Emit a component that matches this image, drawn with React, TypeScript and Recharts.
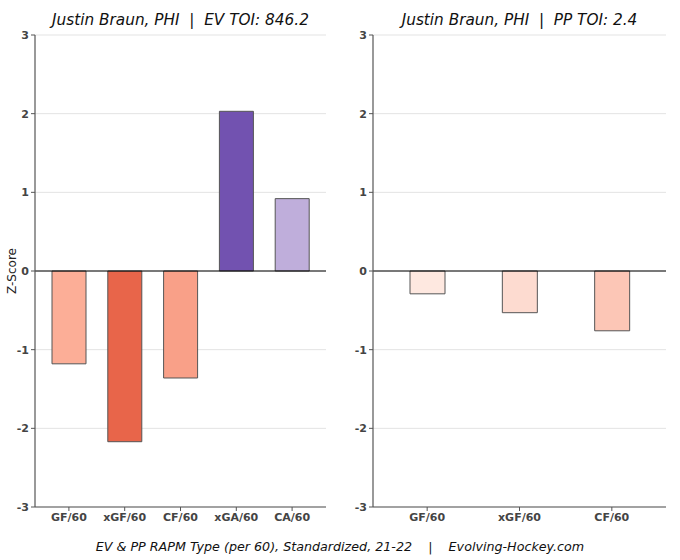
import React from "react";
import { BarChart, Bar, XAxis, YAxis, CartesianGrid, ReferenceLine, Cell } from "recharts";

const evCategories = ["GF/60", "xGF/60", "CF/60", "xGA/60", "CA/60"];
const evValues = [-1.18, -2.17, -1.36, 2.03, 0.92];
const evColors = ["#FCAE97", "#E8654A", "#F9A088", "#7252B0", "#BFAEDB"];

const ppCategories = ["GF/60", "xGF/60", "CF/60"];
const ppValues = [-0.29, -0.53, -0.76];
const ppColors = ["#FEE8E0", "#FDDBD0", "#FCC6B6"];

const yTicks = [-3, -2, -1, 0, 1, 2, 3];

const evTitle = "Justin Braun, PHI  |  EV TOI: 846.2";
const ppTitle = "Justin Braun, PHI  |  PP TOI: 2.4";
const caption = "EV & PP RAPM Type (per 60), Standardized, 21-22    |    Evolving-Hockey.com";

const FONT = "DejaVu Sans, sans-serif";
const frame = "#555555";

function Panel(props: {
  categories: string[];
  values: number[];
  colors: string[];
  left: number;
  yWidth: number;
  barSize: number;
  pad: number;
  title: string;
  showLabel: boolean;
}) {
  const data = props.categories.map((c, i) => ({ name: c, value: props.values[i] }));
  const plotLeft = props.yWidth;
  const plotRight = 340 - 14;
  return (
    <div style={{ position: "absolute", left: props.left, top: 0, width: 340, height: 560 }}>
      <div
        style={{
          position: "absolute",
          left: plotLeft,
          width: plotRight - plotLeft,
          top: 11,
          textAlign: "center",
          fontFamily: FONT,
          fontStyle: "italic",
          fontSize: 15.3,
          color: "#111",
          whiteSpace: "pre",
        }}
      >
        {props.title}
      </div>
      <BarChart
        width={340}
        height={560}
        data={data}
        margin={{ top: 35, right: 14, bottom: 0, left: 0 }}
        barSize={props.barSize}
      >
        <CartesianGrid vertical={false} stroke="#e3e3e3" strokeWidth={1} />
        <XAxis
          dataKey="name"
          xAxisId={0}
          height={53}
          padding={{ left: props.pad, right: props.pad }}
          axisLine={{ stroke: frame, strokeWidth: 1.2 }}
          tickLine={{ stroke: frame }}
          tickSize={4}
          interval={0}
          tick={{ fontFamily: FONT, fontSize: 11, fontWeight: "bold", fill: "#444" }}
        />
        <XAxis
          dataKey="name"
          xAxisId="top"
          orientation="top"
          height={0}
          axisLine={{ stroke: frame, strokeWidth: 1.2 }}
          tick={false}
          tickLine={false}
        />
        <YAxis
          yAxisId={0}
          width={props.yWidth}
          domain={[-3, 3]}
          ticks={yTicks}
          allowDataOverflow
          axisLine={{ stroke: frame, strokeWidth: 1.2 }}
          tickLine={{ stroke: frame }}
          tickSize={4}
          tick={{ fontFamily: FONT, fontSize: 11, fontWeight: "bold", fill: "#444" }}
        />
        <YAxis
          yAxisId="r"
          orientation="right"
          width={0}
          domain={[-3, 3]}
          axisLine={{ stroke: frame, strokeWidth: 1.2 }}
          tick={false}
          tickLine={false}
        />
        <ReferenceLine y={0} yAxisId={0} stroke="#000" strokeWidth={1} />
        <Bar dataKey="value" isAnimationActive={false} stroke="#555" strokeWidth={1}>
          {data.map((d, i) => (
            <Cell key={d.name} fill={props.colors[i]} />
          ))}
        </Bar>
      </BarChart>
      {props.showLabel && (
        <div
          style={{
            position: "absolute",
            left: 12,
            top: 271,
            transform: "translate(-50%, -50%) rotate(-90deg)",
            fontFamily: FONT,
            fontSize: 12,
            color: "#222",
            whiteSpace: "nowrap",
          }}
        >
          Z-Score
        </div>
      )}
    </div>
  );
}

export default function App() {
  return (
    <div style={{ position: "absolute", left: 0, top: 0, width: 680, height: 560, background: "#fff" }}>
      <Panel categories={evCategories} values={evValues} colors={evColors} left={0} yWidth={35} barSize={34} pad={6} title={evTitle} showLabel />
      <Panel categories={ppCategories} values={ppValues} colors={ppColors} left={340} yWidth={33} barSize={35} pad={8} title={ppTitle} showLabel={false} />
      <div
        style={{
          position: "absolute",
          left: 0,
          width: 680,
          top: 539,
          textAlign: "center",
          fontFamily: FONT,
          fontStyle: "italic",
          fontSize: 12.7,
          color: "#111",
          whiteSpace: "pre",
        }}
      >
        {caption}
      </div>
    </div>
  );
}
